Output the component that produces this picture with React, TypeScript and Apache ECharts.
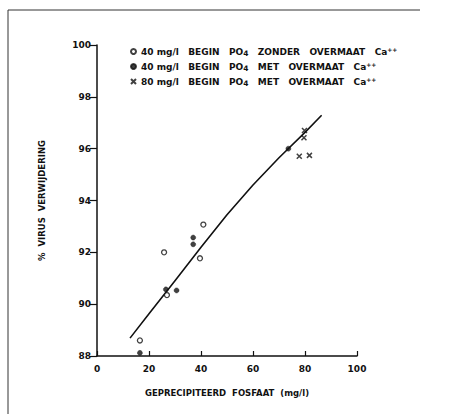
import React, { useEffect, useRef } from "react";
import * as echarts from "echarts";

const seriesNames = [
  "40 mg/l BEGIN PO4 ZONDER OVERMAAT Ca++",
  "40 mg/l BEGIN PO4 MET OVERMAAT Ca++",
  "80 mg/l BEGIN PO4 MET OVERMAAT Ca++",
];
const legendParts: [string, string, string][] = [
  ["40 mg/l   BEGIN   PO", "   ZONDER   OVERMAAT   Ca", "++"],
  ["40 mg/l   BEGIN   PO", "   MET   OVERMAAT   Ca", "++"],
  ["80 mg/l   BEGIN   PO", "   MET   OVERMAAT   Ca", "++"],
];

const zonderPoints: [number, number][] = [
  [16.5, 88.6],
  [25.8, 92.0],
  [26.9, 90.35],
  [39.6, 91.77],
  [40.9, 93.07],
];
const metPoints: [number, number][] = [
  [16.5, 88.12],
  [26.5, 90.57],
  [30.6, 90.53],
  [37.0, 92.57],
  [37.0, 92.31],
  [73.6, 96.0],
];
const met80Points: [number, number][] = [
  [79.8, 96.7],
  [79.6, 96.42],
  [77.8, 95.71],
  [81.7, 95.74],
];
const curvePoints: [number, number][] = [
  [12.7, 88.69],
  [20, 89.63],
  [30, 90.9],
  [40, 92.2],
  [50, 93.45],
  [60, 94.6],
  [70, 95.65],
  [80, 96.63],
  [86.4, 97.29],
];

const xTicks = { min: 0, max: 100, interval: 20 };
const yTicks = { min: 88, max: 100, interval: 2 };

const FONT = "DejaVu Sans";

export default function App() {
  const ref = useRef<HTMLDivElement>(null);
  useEffect(() => {
    if (!ref.current) return;
    const chart = echarts.init(ref.current, undefined, { renderer: "svg" });
    const crossPath = "path://M0,0L10,10M10,0L0,10";
    const txt = { fontFamily: FONT, fontWeight: "bold" as const, fontSize: 8.5, color: "#111" };
    chart.setOption({
      animation: false,
      backgroundColor: "#fff",
      grid: { left: 97, right: 102, top: 45, bottom: 58 },
      legend: {
        orient: "vertical",
        left: 125,
        top: 41,
        itemWidth: 5,
        itemHeight: 5,
        itemGap: 4,
        data: seriesNames,
        formatter: (name: string) => {
          const i = seriesNames.indexOf(name);
          const p = legendParts[i];
          return `{t|${p[0]}}{s|4}{t|${p[1]}}{p|${p[2]}}`;
        },
        textStyle: {
          ...txt,
          rich: {
            t: { ...txt, fontSize: 9, lineHeight: 11 },
            s: { ...txt, fontSize: 7.5, verticalAlign: "bottom", lineHeight: 11 },
            p: { ...txt, fontSize: 6, verticalAlign: "top", lineHeight: 11 },
          },
        },
      },
      xAxis: {
        type: "value",
        ...xTicks,
        name: "GEPRECIPITEERD  FOSFAAT  (mg/l)",
        nameLocation: "middle",
        nameGap: 32,
        nameTextStyle: { ...txt, fontSize: 8.5 },
        axisLine: { onZero: false, lineStyle: { color: "#111", width: 1.5 } },
        axisTick: { inside: true, length: 5, lineStyle: { color: "#111", width: 1.2 } },
        axisLabel: { ...txt, fontSize: 9, margin: 8 },
        splitLine: { show: false },
      },
      yAxis: {
        type: "value",
        ...yTicks,
        name: "%  VIRUS  VERWIJDERING",
        nameLocation: "middle",
        nameGap: 51,
        nameTextStyle: { ...txt, fontSize: 8.5 },
        axisLine: { onZero: false, lineStyle: { color: "#111", width: 1.5 } },
        axisTick: { length: 7, lineStyle: { color: "#111", width: 1.2 } },
        axisLabel: { ...txt, fontSize: 9, margin: 6 },
        splitLine: { show: false },
      },
      series: [
        {
          name: seriesNames[0],
          type: "scatter",
          symbol: "circle",
          symbolSize: 5,
          itemStyle: { color: "#fff", borderColor: "#111", borderWidth: 1.3 },
          data: zonderPoints,
          z: 3,
        },
        {
          name: seriesNames[1],
          type: "scatter",
          symbol: "circle",
          symbolSize: 5,
          itemStyle: { color: "#111", borderColor: "#111", borderWidth: 0.5 },
          data: metPoints,
          z: 3,
        },
        {
          name: seriesNames[2],
          type: "scatter",
          symbol: crossPath,
          symbolSize: 5,
          itemStyle: { color: "transparent", borderColor: "#111", borderWidth: 1.5 },
          data: met80Points,
          z: 3,
        },
        {
          name: "curve",
          type: "line",
          smooth: false,
          symbol: "none",
          lineStyle: { color: "#111", width: 1.6, join: "round" },
          data: curvePoints,
          z: 2,
        },
      ],
      graphic: [
        { type: "line", shape: { x1: 8, y1: 10, x2: 420, y2: 10 }, style: { stroke: "#333", lineWidth: 1 } },
        { type: "line", shape: { x1: 8, y1: 10, x2: 8, y2: 414 }, style: { stroke: "#333", lineWidth: 1 } },
      ],
    });
    return () => chart.dispose();
  }, []);
  return (
    <div
      ref={ref}
      style={{ position: "absolute", left: 0, top: 0, width: 459, height: 414 }}
    />
  );
}
